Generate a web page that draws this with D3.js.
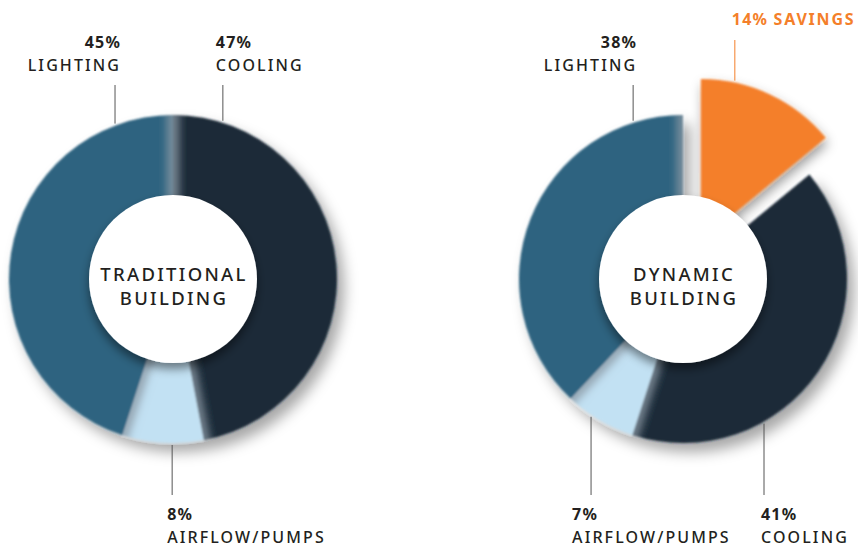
<!DOCTYPE html>
<html>
<head>
<meta charset="utf-8">
<script src="https://cdn.jsdelivr.net/npm/d3@7"></script>
<style>
  html, body { margin: 0; padding: 0; background: #fff; }
  svg { display: block; }
  text { font-family: "Noto Sans", "DejaVu Sans", sans-serif; fill: #231f20; }
  .pct { font-weight: 700; font-size: 16px; letter-spacing: 1.2px; }
  .name { font-weight: 500; font-size: 16px; letter-spacing: 2.1px; }
  .center { font-weight: 500; font-size: 18.5px; letter-spacing: 2.3px; }
  .leader { stroke: #555; stroke-width: 1; }
</style>
</head>
<body>
<script>
// data
const tradCategories = ["Cooling", "Airflow/Pumps", "Lighting"];
const tradValues = [47, 8, 45];
const dynCategories = ["Savings", "Cooling", "Airflow/Pumps", "Lighting"];
const dynValues = [14, 41, 7, 38];

const W = 858, H = 548;
const R = 164, R_IN = 84;

const colors = {
  "Cooling": "#1b2a38",
  "Airflow/Pumps": "#c2e1f3",
  "Lighting": "#2e6380",
  "Savings": "#f47f2a"
};

const svg = d3.select("body").append("svg")
  .attr("width", W)
  .attr("height", H);

const defs = svg.append("defs");
function shadow(id, dx, dy, sd, op) {
  const f = defs.append("filter").attr("id", id)
    .attr("x", "-30%").attr("y", "-30%").attr("width", "170%").attr("height", "170%");
  f.append("feGaussianBlur").attr("in", "SourceGraphic").attr("stdDeviation", 0.8).attr("result", "soft");
  f.append("feDropShadow").attr("in", "soft")
    .attr("dx", dx).attr("dy", dy).attr("stdDeviation", sd)
    .attr("flood-color", "#000").attr("flood-opacity", op);
}
shadow("ringShadow", 7, 9, 7, 0.35);
shadow("sliceShadow", 2, 6, 6, 0.4);
defs.append("filter").attr("id", "discShadow")
  .attr("x", "-30%").attr("y", "-30%").attr("width", "160%").attr("height", "170%")
  .append("feDropShadow")
  .attr("dx", 0).attr("dy", 6).attr("stdDeviation", 5)
  .attr("flood-color", "#000").attr("flood-opacity", 0.45);
defs.append("filter").attr("id", "bandBlur")
  .attr("filterUnits", "userSpaceOnUse")
  .attr("x", -220).attr("y", -220).attr("width", 440).attr("height", 440)
  .append("feGaussianBlur").attr("stdDeviation", 4.5);

const pie = d3.pie().sort(null).value(d => d.value);
const arc = d3.arc().innerRadius(R_IN - 10).outerRadius(R);
const wedge = d3.arc().innerRadius(0).outerRadius(R - 2);

// label layout: angle where the leader meets the ring, end of leader, text offset
const layouts = {
  trad: {
    id: "trad", cx: 173, cy: 279,
    title: ["TRADITIONAL", "BUILDING"],
    labels: {
      "Cooling":       { angle: 17.7, y: 85, side: "top", dx: -7, anchor: "start" },
      "Airflow/Pumps": { angle: 180.3, y: 495, side: "bottom", dx: -5, anchor: "start" },
      "Lighting":      { angle: -20.7, y: 85, side: "top", dx: 6, anchor: "end" }
    }
  },
  dyn: {
    id: "dyn", cx: 683, cy: 279,
    title: ["DYNAMIC", "BUILDING"],
    explode: { "Savings": 42 },
    labels: {
      "Savings":       { angle: 12.1, y: 40, side: "single", dx: -3, anchor: "start" },
      "Cooling":       { angle: 150.4, y: 495, side: "bottom", dx: -3, anchor: "start" },
      "Airflow/Pumps": { angle: 214.1, y: 495, side: "bottom", dx: -19, anchor: "start" },
      "Lighting":      { angle: -17.7, y: 85, side: "top", dx: 4, anchor: "end" }
    }
  }
};

function drawDonut(categories, values, layout) {
  const data = categories.map((c, i) => ({ name: c, value: values[i] }));
  const arcs = pie(data);
  const g = svg.append("g").attr("transform", `translate(${layout.cx},${layout.cy})`);
  const explode = layout.explode || {};
  const isOut = d => !!explode[d.data.name];

  const offset = d => {
    const k = explode[d.data.name] || 0;
    const a = (d.startAngle + d.endAngle) / 2;
    return [Math.sin(a) * k, -Math.cos(a) * k];
  };

  const ring = g.append("g").attr("filter", "url(#ringShadow)");
  const inRing = arcs.filter(d => !isOut(d));
  inRing.forEach((d, i) => {
    const cid = `clip-${layout.id}-${i}`;
    defs.append("clipPath").attr("id", cid)
      .append("path").attr("d", arc(d));
    const s = ring.append("g");
    s.append("path")
      .attr("d", arc(d))
      .attr("fill", colors[d.data.name]);

    // soft grey shading along the slice edges
    const edges = [d.endAngle];
    if (!isOut(arcs[(arcs.indexOf(d) + arcs.length - 1) % arcs.length]) && d.startAngle === 0) edges.push(0);
    const bands = s.append("g")
      .attr("clip-path", `url(#${cid})`);
    edges.forEach(a => {
      bands.append("line")
        .attr("x1", Math.sin(a) * (R_IN - 20)).attr("y1", -Math.cos(a) * (R_IN - 20))
        .attr("x2", Math.sin(a) * (R + 20)).attr("y2", -Math.cos(a) * (R + 20))
        .attr("stroke", "#8a98a3")
        .attr("stroke-width", 12)
        .attr("stroke-opacity", 0.85)
        .attr("filter", "url(#bandBlur)");
    });
  });

  // pulled-out slice: full wedge, the centre disc hides its inner part
  g.selectAll("path.out")
    .data(arcs.filter(isOut))
    .enter().append("path")
    .attr("class", "out")
    .attr("d", wedge)
    .attr("fill", d => colors[d.data.name])
    .attr("filter", "url(#sliceShadow)")
    .attr("transform", d => `translate(${offset(d)})`);

  // white centre disc
  g.append("circle")
    .attr("r", R_IN)
    .attr("fill", "#fff")
    .attr("filter", "url(#discShadow)");

  g.selectAll("text.center")
    .data(layout.title)
    .enter().append("text")
    .attr("class", "center")
    .attr("text-anchor", "middle")
    .attr("x", 1)
    .attr("y", (d, i) => 2 + i * 24)
    .text(d => d);

  // leaders and labels
  arcs.forEach(d => {
    const L = layout.labels[d.data.name];
    const [ox, oy] = offset(d);
    const rad = L.angle * Math.PI / 180;
    const x = ox + Math.sin(rad) * (isOut(d) ? R - 2 : R);
    const y0 = oy - Math.cos(rad) * (isOut(d) ? R - 2 : R);
    const yEnd = L.y - layout.cy;
    g.append("line")
      .attr("class", "leader")
      .style("stroke", isOut(d) ? colors[d.data.name] : null)
      .attr("x1", x).attr("x2", x)
      .attr("y1", y0 + (yEnd < y0 ? -2 : 2)).attr("y2", yEnd);

    const pct = d.data.value + "%";
    const name = d.data.name.toUpperCase();
    const tx = x + L.dx;
    if (L.side === "single") {
      const t = g.append("text")
        .attr("x", tx).attr("y", yEnd - 15)
        .attr("text-anchor", L.anchor);
      t.append("tspan").attr("class", "pct").style("fill", colors["Savings"]).text(pct + " ");
      t.append("tspan").attr("class", "name").style("font-weight", 700)
        .style("letter-spacing", "1.8px")
        .style("fill", colors["Savings"]).text(name);
    } else {
      const base = L.side === "top" ? yEnd - 37 : yEnd + 25;
      g.append("text").attr("class", "pct")
        .attr("x", tx).attr("y", base)
        .attr("text-anchor", L.anchor)
        .text(pct);
      g.append("text").attr("class", "name")
        .attr("x", tx).attr("y", base + 23)
        .attr("text-anchor", L.anchor)
        .text(name);
    }
  });
}

drawDonut(tradCategories, tradValues, layouts.trad);
drawDonut(dynCategories, dynValues, layouts.dyn);
</script>
</body>
</html>
